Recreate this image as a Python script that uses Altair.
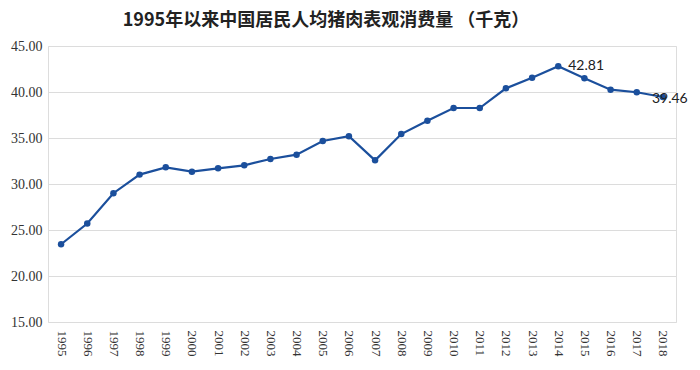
import altair as alt
import pandas as pd

years = [str(y) for y in range(1995, 2019)]
values = [23.45, 25.70, 29.00, 31.02, 31.81, 31.34, 31.70, 32.03, 32.72, 33.19,
          34.67, 35.20, 32.57, 35.43, 36.88, 38.26, 38.26, 40.40, 41.56, 42.81,
          41.49, 40.25, 39.97, 39.46]
label_years = ["2014", "2018"]
label_text = ["42.81", "39.46"]
label_dx = [10, -11]

df = pd.DataFrame({"year": years, "value": values})
df["label"] = ""
for y, t in zip(label_years, label_text):
    df.loc[df["year"] == y, "label"] = t

x_enc = alt.X("year:O", title=None, sort=years,
              scale=alt.Scale(type="point", padding=0.5),
              axis=alt.Axis(labelAngle=90, labelFont="Liberation Serif", labelFontSize=13,
                            labelColor="#333333", ticks=False, domain=False, grid=False,
                            labelPadding=8))
y_enc = alt.Y("value:Q", title=None,
              scale=alt.Scale(domain=[15, 45], nice=False, zero=False),
              axis=alt.Axis(values=[15, 20, 25, 30, 35, 40, 45], format=".2f",
                            labelFont="Liberation Serif", labelFontSize=14,
                            labelColor="#333333", ticks=False, domain=False,
                            grid=True, gridColor="#dcdcdc", gridWidth=1,
                            labelPadding=6))

base = alt.Chart(df).encode(x=x_enc, y=y_enc)

line = base.mark_line(color="#1b4f9c", strokeWidth=2.2)
pts = base.mark_point(filled=True, color="#1b4f9c", size=42, opacity=1)

lab1 = alt.Chart(df[df["year"] == "2014"]).mark_text(
    align="left", baseline="middle", dx=label_dx[0], dy=0, font="Lato", fontSize=14,
    color="#222222").encode(x=alt.X("year:O", sort=years), y="value:Q", text="label:N")
lab2 = alt.Chart(df[df["year"] == "2018"]).mark_text(
    align="left", baseline="middle", dx=label_dx[1], dy=2, font="Lato", fontSize=14,
    color="#222222").encode(x=alt.X("year:O", sort=years), y="value:Q", text="label:N")

chart = (line + pts + lab1 + lab2).properties(
    width=628, height=276,
    padding={"left": 40, "top": 38, "right": 16, "bottom": 38},
    autosize=alt.AutoSizeParams(type="none"),
    title=alt.TitleParams("1995年以来中国居民人均猪肉表观消费量 （千克）",
                          font="Noto Sans CJK SC", fontSize=18, fontWeight="bold",
                          color="#222222", anchor="middle", dx=-36, offset=9),
).configure_view(stroke=None).configure(background="white")

chart.save("out.html", embed_options={"renderer": "svg", "actions": False})
